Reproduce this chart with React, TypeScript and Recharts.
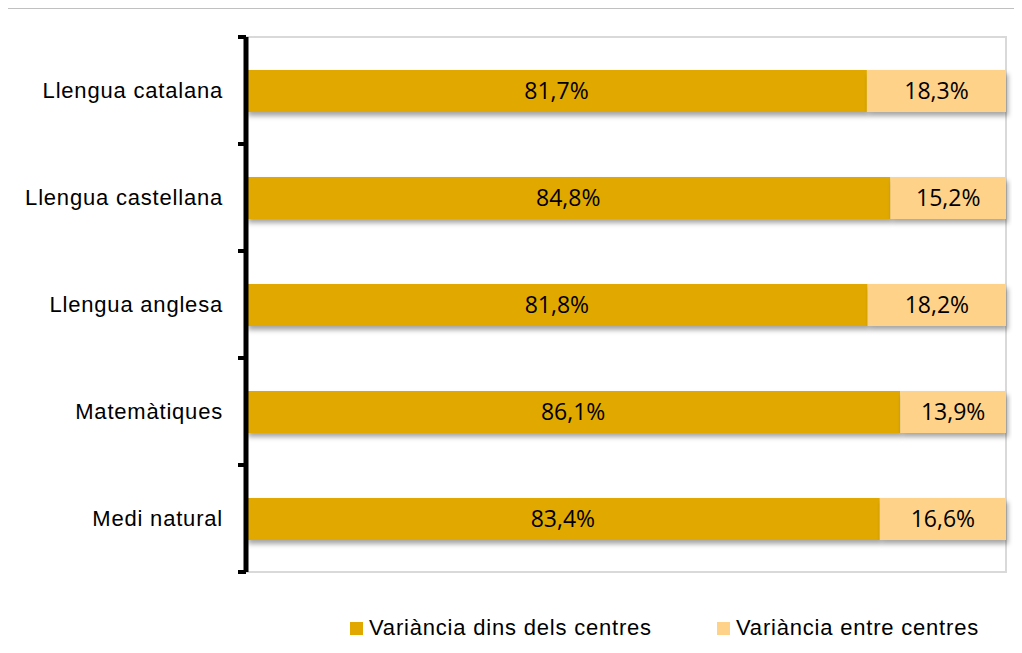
import React from 'react';
import { BarChart, Bar, XAxis, YAxis, Legend, LabelList, ReferenceArea } from 'recharts';

const categories = ['Llengua catalana', 'Llengua castellana', 'Llengua anglesa', 'Matemàtiques', 'Medi natural'];
const dinsValues = [81.7, 84.8, 81.8, 86.1, 83.4];
const entreValues = [18.3, 15.2, 18.2, 13.9, 16.6];
const seriesNames = ['Variància dins dels centres', 'Variància entre centres'];
const seriesColors = ['#E1A900', '#FFD28A'];

const data = categories.map((name, i) => ({ name, dins: dinsValues[i], entre: entreValues[i] }));

const TICK_SIZE = 8;
const TICK_MARGIN = 15;
const LABEL_FONT = '"Liberation Sans", Arial, sans-serif';

const fmt = (v: any) => Number(v).toFixed(1).replace('.', ',') + '%';

const CategoryTick = (props: any) => {
  const { x, y, payload, index } = props;
  const axisX = x + TICK_SIZE + TICK_MARGIN;
  const half = payload && payload.offset ? payload.offset : 0;
  return (
    <g>
      <line x1={axisX - TICK_SIZE} x2={axisX} y1={y - half} y2={y - half} stroke="#000" strokeWidth={4} />
      {index === categories.length - 1 && (
        <line x1={axisX - TICK_SIZE} x2={axisX} y1={y + half} y2={y + half} stroke="#000" strokeWidth={4} />
      )}
      <text x={x} y={y} dy="0.36em" textAnchor="end" fill="#000" fontSize={22} letterSpacing={0.8} fontFamily={LABEL_FONT}>
        {payload.value}
      </text>
    </g>
  );
};

const ShadowBar = (props: any) => {
  const { x, y, width, height, fill } = props;
  return <rect x={x} y={y} width={width} height={height} fill={fill} filter="url(#barShadow)" />;
};

const LegendContent = () => (
  <div style={{ display: 'flex', alignItems: 'center', height: 30, fontFamily: LABEL_FONT, fontSize: 22, letterSpacing: 0.8, color: '#000' }}>
    {seriesNames.map((n, i) => (
      <div key={n} style={{ display: 'flex', alignItems: 'center', width: i === 0 ? 367 : 300 }}>
        <span style={{ display: 'inline-block', width: 13, height: 13, background: seriesColors[i], marginRight: 6 }} />
        <span>{n}</span>
      </div>
    ))}
  </div>
);

export default function App() {
  return (
    <div
      style={{
        marginLeft: -2,
        width: 1014,
        height: 636,
        borderTop: '1px solid #c0c0c0',
        borderLeft: '2px solid #d0d0d0',
        overflow: 'hidden',
        background: '#fff',
      }}
    >
      <BarChart
        width={1014}
        height={636}
        data={data}
        layout="vertical"
        barSize={42}
        margin={{ top: 28, right: 16, left: 0, bottom: 43 }}
      >
        <defs>
          <filter id="barShadow" x="-5%" y="-30%" width="110%" height="180%">
            <feDropShadow dx={2} dy={4} stdDeviation={2.5} floodColor="#000" floodOpacity={0.35} />
          </filter>
        </defs>
        <XAxis type="number" domain={[0, 100]} hide />
        <YAxis
          type="category"
          dataKey="name"
          width={238}
          axisLine={{ stroke: '#000', strokeWidth: 5 }}
          tickLine={false}
          tickSize={TICK_SIZE}
          tickMargin={TICK_MARGIN}
          tick={<CategoryTick />}
          interval={0}
        />
        <ReferenceArea x1={0} x2={100} fill="none" stroke="#d9d9d9" strokeWidth={2} />
        <Legend
          verticalAlign="bottom"
          content={<LegendContent />}
          wrapperStyle={{ top: 604, left: 342, bottom: 'auto', width: 680, height: 30 }}
        />
        <Bar dataKey="dins" name={seriesNames[0]} stackId="a" fill={seriesColors[0]} shape={<ShadowBar />} isAnimationActive={false}>
          <LabelList dataKey="dins" position="center" formatter={fmt} fill="#000" fontSize={23} fontFamily='"Open Sans", sans-serif' />
        </Bar>
        <Bar dataKey="entre" name={seriesNames[1]} stackId="a" fill={seriesColors[1]} shape={<ShadowBar />} isAnimationActive={false}>
          <LabelList dataKey="entre" position="center" formatter={fmt} fill="#000" fontSize={23} fontFamily='"Open Sans", sans-serif' />
        </Bar>
      </BarChart>
    </div>
  );
}
